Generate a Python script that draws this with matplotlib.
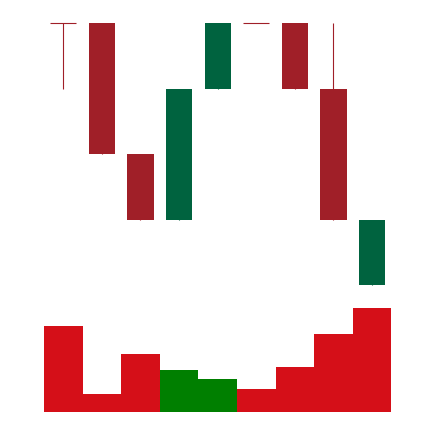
import matplotlib
matplotlib.use("Agg")
import matplotlib.pyplot as plt
import numpy as np

# price data (OHLC) per candle
opens = [4, 4, 2, 1, 3, 4, 4, 3, 0]
closes = [4, 2, 1, 3, 4, 4, 3, 1, 1]
highs = [4, 4, 2, 3, 4, 4, 4, 4, 1]
lows = [3, 2, 1, 1, 3, 4, 3, 1, 0]
volumes = [86, 18, 58, 42, 33, 23, 45, 78, 104]
vol_up = [False, False, False, True, True, False, False, False, False]

up_col = '#00633f'
down_col = '#a01f28'
vol_up_col = '#007f00'
vol_down_col = '#d50f18'

W, H = 434, 422
fig = plt.figure(figsize=(W / 100, H / 100), dpi=100)

x = np.arange(len(opens))
left = 44 / W
width = (391.3 - 44) / W

# candles
ax = fig.add_axes([left, 1 - 285 / H, width, (285 - 23) / H])
ax.set_xlim(-0.5, len(opens) - 0.5)
ax.set_ylim(0, 4)
ax.axis('off')
for i in x:
    o, c, hi, lo = opens[i], closes[i], highs[i], lows[i]
    col = up_col if c > o else down_col
    if hi > lo:
        ax.vlines(i, lo, hi, color=col, linewidth=0.8, zorder=1, clip_on=False)
    if c == o:
        ax.hlines(o, i - 0.34, i + 0.34, color=col, linewidth=0.8, zorder=2, clip_on=False)
    else:
        ax.bar(i, c - o, bottom=o, width=0.68, color=col, zorder=2, clip_on=False)

# volume
vax = fig.add_axes([left, 1 - 411.7 / H, width, (411.7 - 308) / H])
vax.set_xlim(-0.5, len(opens) - 0.5)
vax.set_ylim(0, max(volumes))
vax.axis('off')
vcols = [vol_up_col if u else vol_down_col for u in vol_up]
vax.bar(x, volumes, width=1.0, color=vcols, linewidth=0)

fig.savefig('out.png', dpi=100)
